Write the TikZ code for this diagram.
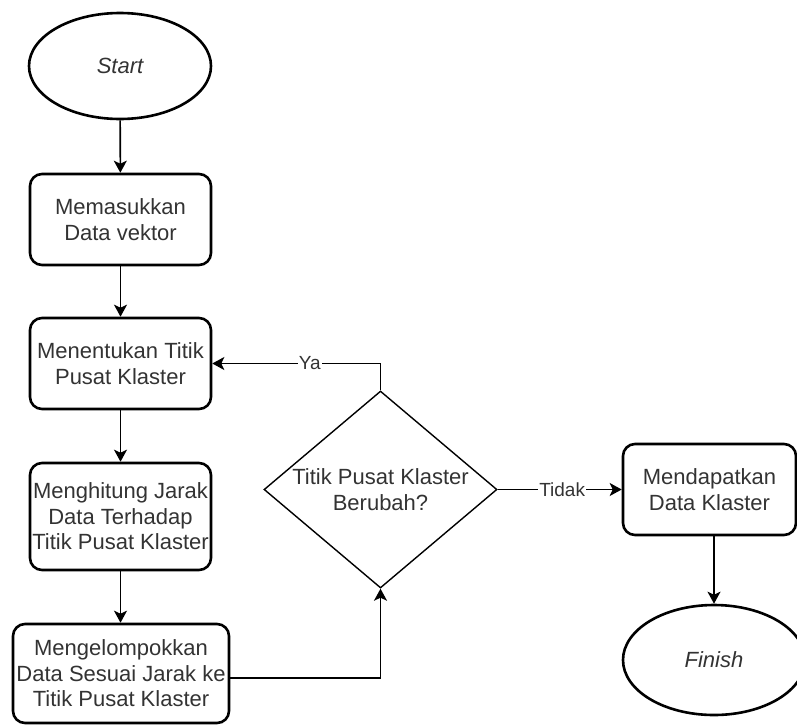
\documentclass[tikz,border=0pt]{standalone}
\usepackage{fontspec}
\setmainfont{Liberation Sans}
\usetikzlibrary{shapes.geometric,arrows.meta}
\definecolor{txt}{RGB}{51,51,51}
\begin{document}
\begin{tikzpicture}[x=1pt,y=-1pt,
  base/.style={draw=black, text=txt, align=center,
    font=\fontsize{22}{25.5}\selectfont, inner sep=0pt},
  proc/.style={base, rectangle, rounded corners=12pt, line width=2.6pt},
  term/.style={base, ellipse, line width=2.6pt,
    font=\fontsize{22}{25.5}\selectfont\itshape},
  decision/.style={base, diamond, line width=1.4pt},
  caption/.style={base, draw=none},
  flow/.style={line width=1.6pt, -{Stealth[length=12pt,width=13pt,inset=3pt]}},
  lbl/.style={fill=white, text=txt, font=\fontsize{19}{22}\selectfont, inner sep=1pt}
]
\useasboundingbox (0,0) rectangle (797,726);

% terminals
\node[term, minimum width=182pt, minimum height=106pt] (start) at (120,66) {Start};
\node[term, minimum width=182pt, minimum height=110pt] (fin) at (714,660) {Finish};

% process steps
\node[proc, minimum width=181pt, minimum height=91pt]  (b1) at (120.5,219.5) {Memasukkan\\Data vektor};
\node[proc, minimum width=181pt, minimum height=91pt]  (b2) at (120.5,363.5) {Menentukan Titik\\Pusat Klaster};
\node[proc, minimum width=181pt, minimum height=107pt] (b3) at (120.5,516.5) {Menghitung Jarak\\Data Terhadap\\Titik Pusat Klaster};
\node[proc, minimum width=216pt, minimum height=99pt]  (b4) at (121,673.5) {Mengelompokkan\\Data Sesuai Jarak ke\\Titik Pusat Klaster};
\node[proc, minimum width=173pt, minimum height=91pt]  (res) at (709.5,489.5) {Mendapatkan\\Data Klaster};

% decision
\node[decision, minimum width=233pt, minimum height=197pt] (dec) at (380.5,489.5) {};
\node[caption] (dectext) at (dec) {Titik Pusat Klaster\\Berubah?};

% connectors
\draw[flow] (start) -- (b1);
\draw[flow] (b1) -- (b2);
\draw[flow] (b2) -- (b3);
\draw[flow] (b3.south) -- (b3.south |- b4.north);
\draw[flow] ([yshift=-4.5pt]b4.east) -| (dec.south);
\draw[flow] (dec.north) |- node[lbl, pos=0.71] {Ya} (b2.east);
\draw[flow] (dec.east) -- node[lbl, pos=0.52] {Tidak} (res.west);
\draw[flow] (fin.north |- res.south) -- (fin.north);
\end{tikzpicture}
\end{document}
